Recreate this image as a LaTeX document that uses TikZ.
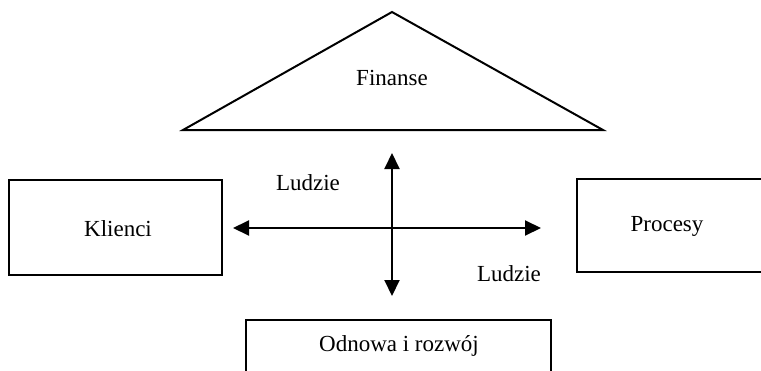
\documentclass[tikz,border=0pt]{standalone}
\usepackage{fontspec}
\setmainfont{Liberation Serif}
\usetikzlibrary{arrows.meta}
\begin{document}
\begin{tikzpicture}[x=1pt,y=-1pt,
  lbl/.style={font=\fontsize{23}{27}\selectfont, inner sep=0pt},
  frame/.style={draw, line width=2pt},
  dblarrow/.style={line width=2pt, {Triangle[length=16pt,width=15pt]}-{Triangle[length=16pt,width=15pt]}}]
  \useasboundingbox (0,0) rectangle (761,370);
  \clip (0,0) rectangle (761,370);
  % roof
  \coordinate (apex) at (392,12);
  \coordinate (bl) at (183,130);
  \coordinate (br) at (603,130);
  \draw[frame, line join=miter] (apex) -- (bl) -- (br) -- cycle;
  \node[lbl] (fin) at (392,78) {Finanse};
  % side boxes
  \draw[frame] (9,180) rectangle (222,275);
  \node[lbl] (kl) at (118,229) {Klienci};
  \draw[frame] (577,179) rectangle (775,272);
  \node[lbl] (pr) at (667,226) {Procesy};
  \draw[frame] (246,320) rectangle (551,385);
  \node[lbl] (od) at (399,346) {Odnowa i rozwój};
  % crossing arrows
  \coordinate (up) at (392,153);
  \coordinate (down) at (392,296);
  \coordinate (left) at (233,228);
  \coordinate (right) at (541,228);
  \draw[dblarrow] (down) -- (up);
  \draw[dblarrow] (left) -- (right);
  \node[lbl] (l1) at (308,183) {Ludzie};
  \node[lbl] (l2) at (509,274) {Ludzie};
\end{tikzpicture}
\end{document}
